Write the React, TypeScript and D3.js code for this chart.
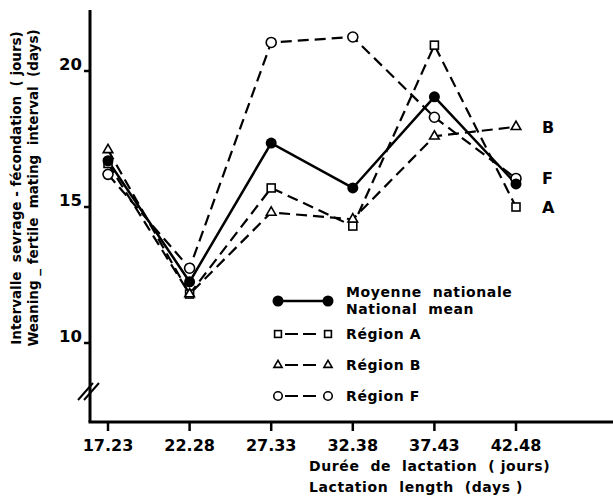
import React, { useEffect, useRef } from "react";
import * as d3 from "d3";

// lactation length classes (days)
const lactation = [17.23, 22.28, 27.33, 32.38, 37.43, 42.48];
const xTickLabels = ["17.23", "22.28", "27.33", "32.38", "37.43", "42.48"];
const yTicks = [10, 15, 20];

// weaning - fertile mating interval (days)
const nationalMean = [16.7, 12.25, 17.35, 15.7, 19.05, 15.85];
const regionA = [16.6, 11.8, 15.7, 14.3, 20.95, 15.0];
const regionB = [17.1, 11.8, 14.8, 14.55, 17.6, 17.95];
const regionF = [16.2, 12.75, 21.05, 21.25, 18.3, 16.05];

const seriesNames = ["Moyenne nationale", "Région A", "Région B", "Région F"];
const endLabels = ["", "A", "B", "F"];

const FONT = "'DejaVu Sans', sans-serif";

export default function App() {
  const ref = useRef<SVGSVGElement>(null);

  useEffect(() => {
    const svg = d3.select(ref.current);
    svg.selectAll("*").remove();
    const g = svg.append("g");

    const x = d3.scaleLinear().domain([17.23, 42.48]).range([108, 516]);
    const y = d3.scaleLinear().domain([10, 20]).range([343, 71]);

    const axisX = 90;
    const axisY = 422;

    // axes lines
    g.append("line")
      .attr("x1", axisX).attr("x2", axisX)
      .attr("y1", 10).attr("y2", axisY)
      .attr("stroke", "#000").attr("stroke-width", 3);
    g.append("line")
      .attr("x1", axisX - 1.5).attr("x2", 613)
      .attr("y1", axisY).attr("y2", axisY)
      .attr("stroke", "#000").attr("stroke-width", 3);

    // axis break
    [0, 6].forEach((o) => {
      g.append("line")
        .attr("x1", 78 + o).attr("y1", 400)
        .attr("x2", 93 + o).attr("y2", 383)
        .attr("stroke", "#000").attr("stroke-width", 2);
    });

    // y ticks
    yTicks.forEach((t) => {
      g.append("line")
        .attr("x1", axisX - 6).attr("x2", axisX)
        .attr("y1", y(t)).attr("y2", y(t))
        .attr("stroke", "#000").attr("stroke-width", 2.5);
      g.append("text")
        .attr("x", axisX - 8).attr("y", y(t) - 1)
        .attr("text-anchor", "end")
        .attr("font-family", FONT).attr("font-weight", "bold")
        .attr("font-size", 16.5)
        .text(t);
    });

    // x ticks
    lactation.forEach((v, i) => {
      g.append("line")
        .attr("x1", x(v)).attr("x2", x(v))
        .attr("y1", axisY).attr("y2", axisY + 9)
        .attr("stroke", "#000").attr("stroke-width", 2.5);
      g.append("text")
        .attr("x", x(v)).attr("y", axisY + 29)
        .attr("text-anchor", "middle")
        .attr("font-family", FONT).attr("font-weight", "bold")
        .attr("font-size", 16)
        .text(xTickLabels[i]);
    });

    // axis titles
    const xt = g.append("text")
      .style("white-space", "pre")
      .attr("font-family", FONT).attr("font-weight", "bold")
      .attr("font-size", 14).attr("letter-spacing", 0.6);
    xt.append("tspan").attr("x", 309).attr("y", 471).text("Durée  de  lactation  ( jours)");
    xt.append("tspan").attr("x", 309).attr("y", 492).text("Lactation  length  (days )");

    const yt = g.append("text")
      .style("white-space", "pre")
      .attr("transform", "translate(0,188) rotate(-90)")
      .attr("text-anchor", "middle")
      .attr("font-family", FONT).attr("font-weight", "bold")
      .attr("font-size", 13.5).attr("letter-spacing", 0);
    yt.append("tspan").attr("x", 0).attr("y", 21).text("Intervalle  sevrage - fécondation  ( jours)");
    yt.append("tspan").attr("x", 0).attr("y", 38).text("Weaning _ fertile  mating  interval  (days)");

    const allSeries = [nationalMean, regionA, regionB, regionF];
    const line = d3.line<number>().x((_, i) => x(lactation[i])).y((d) => y(d));

    const drawMarker = (sel: any, k: number, cx: number, cy: number, s = 1) => {
      if (k === 0) {
        sel.append("circle").attr("cx", cx).attr("cy", cy).attr("r", 5.5 * s).attr("fill", "#000");
      } else if (k === 1) {
        sel.append("rect").attr("x", cx - 4 * s).attr("y", cy - 4 * s)
          .attr("width", 8 * s).attr("height", 8 * s)
          .attr("fill", "#fff").attr("stroke", "#000").attr("stroke-width", 1.6);
      } else if (k === 2) {
        const p = d3.symbol().type(d3.symbolTriangle).size(40 * s * s)();
        sel.append("path").attr("d", p).attr("transform", `translate(${cx},${cy})`)
          .attr("fill", "#fff").attr("stroke", "#000").attr("stroke-width", 1.6);
      } else {
        sel.append("circle").attr("cx", cx).attr("cy", cy).attr("r", 5 * s)
          .attr("fill", "#fff").attr("stroke", "#000").attr("stroke-width", 1.6);
      }
    };

    // lines (dashed regions first, national mean on top)
    [3, 1, 2, 0].forEach((k) => {
      g.append("path")
        .datum(allSeries[k])
        .attr("d", line)
        .attr("fill", "none")
        .attr("stroke", "#000")
        .attr("stroke-width", k === 0 ? 2.5 : 2.2)
        .attr("stroke-dasharray", k === 0 ? null : "11,6");
    });
    [3, 1, 2, 0].forEach((k) => {
      allSeries[k].forEach((v, i) => drawMarker(g, k, x(lactation[i]), y(v)));
    });

    // end labels
    [1, 2, 3].forEach((k) => {
      const last = allSeries[k][allSeries[k].length - 1];
      g.append("text")
        .attr("x", x(lactation[lactation.length - 1]) + 26)
        .attr("y", y(last) + 6)
        .attr("font-family", FONT).attr("font-weight", "bold")
        .attr("font-size", 16)
        .text(endLabels[k]);
    });

    // legend
    const legendY = [301, 334, 365, 396];
    seriesNames.forEach((name, k) => {
      const ly = legendY[k];
      if (k === 0) {
        g.append("line").attr("x1", 278).attr("x2", 328).attr("y1", ly).attr("y2", ly)
          .attr("stroke", "#000").attr("stroke-width", 2.5);
      } else {
        g.append("line").attr("x1", 285).attr("x2", 321).attr("y1", ly).attr("y2", ly)
          .attr("stroke", "#000").attr("stroke-width", 2.2).attr("stroke-dasharray", "13,5");
      }
      drawMarker(g, k, 278, ly, k === 0 ? 1 : 0.85);
      drawMarker(g, k, 328, ly, k === 0 ? 1 : 0.85);
      const t = g.append("text")
        .style("white-space", "pre")
        .attr("font-family", FONT).attr("font-weight", "bold")
        .attr("font-size", 14).attr("letter-spacing", 0.6);
      if (k === 0) {
        t.append("tspan").attr("x", 346).attr("y", 297).text("Moyenne  nationale");
        t.append("tspan").attr("x", 346).attr("y", 314).text("National  mean");
      } else {
        t.attr("x", 346).attr("y", ly + 5).text(name);
      }
    });
  }, []);

  return (
    <svg
      ref={ref}
      width={613}
      height={496}
      style={{ position: "absolute", left: 0, top: 0, background: "#fff" }}
    />
  );
}
